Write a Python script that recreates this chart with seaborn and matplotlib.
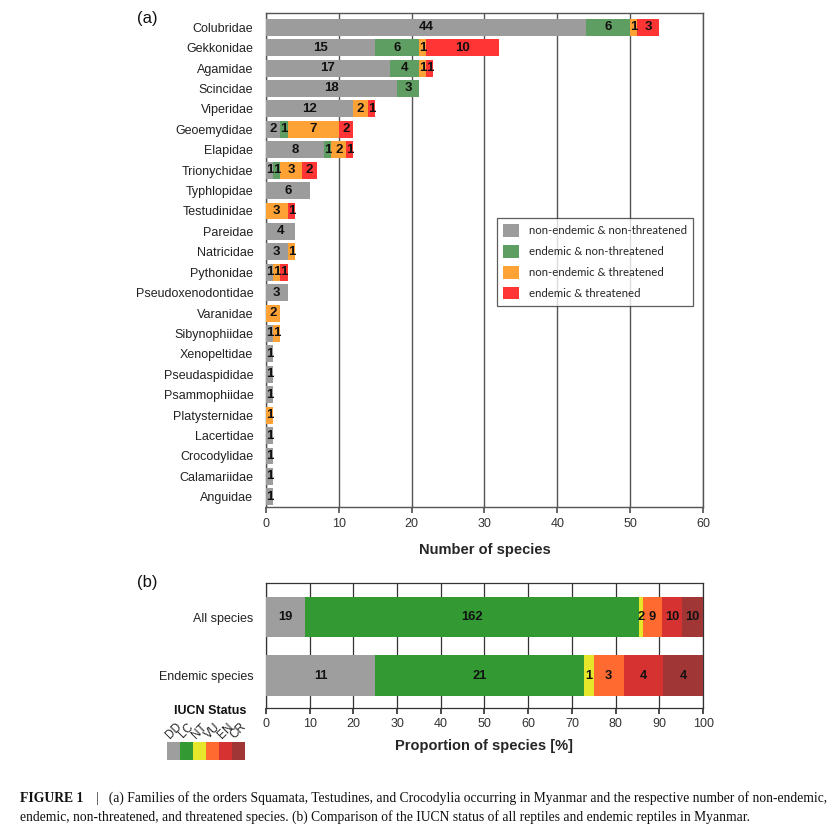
import numpy as np
import pandas as pd
import matplotlib
matplotlib.use("Agg")
import matplotlib.pyplot as plt
from matplotlib.colors import ListedColormap
from matplotlib.patches import Patch
import seaborn as sns

# ---------------- data (a) ----------------
families = ["Colubridae", "Gekkonidae", "Agamidae", "Scincidae", "Viperidae",
            "Geoemydidae", "Elapidae", "Trionychidae", "Typhlopidae", "Testudinidae",
            "Pareidae", "Natricidae", "Pythonidae", "Pseudoxenodontidae", "Varanidae",
            "Sibynophiidae", "Xenopeltidae", "Pseudaspididae", "Psammophiidae",
            "Platysternidae", "Lacertidae", "Crocodylidae", "Calamariidae", "Anguidae"]
nonend_nonthr = [44, 15, 17, 18, 12, 2, 8, 1, 6, 0, 4, 3, 1, 3, 0, 1, 1, 1, 1, 0, 1, 1, 1, 1]
end_nonthr    = [6, 6, 4, 3, 0, 1, 1, 1, 0, 0, 0, 0, 0, 0, 0, 0, 0, 0, 0, 0, 0, 0, 0, 0]
nonend_thr    = [1, 1, 1, 0, 2, 7, 2, 3, 0, 3, 0, 1, 1, 0, 2, 1, 0, 0, 0, 1, 0, 0, 0, 0]
end_thr       = [3, 10, 1, 0, 1, 2, 1, 2, 0, 1, 0, 0, 1, 0, 0, 0, 0, 0, 0, 0, 0, 0, 0, 0]
series_a = ["non-endemic & non-threatened", "endemic & non-threatened",
            "non-endemic & threatened", "endemic & threatened"]
colors_a = ["#9c9c9c", "#5f9e62", "#ffa236", "#ff3434"]
x_ticks_a = [0, 10, 20, 30, 40, 50, 60]

# ---------------- data (b) ----------------
groups = ["All species", "Endemic species"]
iucn = ["DD", "LC", "NT", "VU", "EN", "CR"]
all_species = [19, 162, 2, 9, 10, 10]
endemic_species = [11, 21, 1, 3, 4, 4]
colors_b = ["#9e9e9e", "#339a33", "#e6e62a", "#ff6a30", "#d63232", "#a13636"]
x_ticks_b = [0, 10, 20, 30, 40, 50, 60, 70, 80, 90, 100]

sns.set_theme(style="white")
plt.rcParams["font.family"] = ["Liberation Sans", "DejaVu Sans"]

fig = plt.figure(figsize=(8.36, 8.36), dpi=100)
axA = fig.add_axes([0.318, 0.3935, 0.523, 0.591])
axB = fig.add_axes([0.318, 0.1531, 0.523, 0.1495])

# ---------- panel (a) ----------
dfa = pd.DataFrame({"family": families, series_a[0]: nonend_nonthr,
                    series_a[1]: end_nonthr, series_a[2]: nonend_thr,
                    series_a[3]: end_thr})
cum = dfa[series_a].cumsum(axis=1)
for i in range(3, -1, -1):
    sns.barplot(x=cum[series_a[i]], y=dfa["family"], orient="h", color=colors_a[i],
                saturation=1, width=0.83, ax=axA, linewidth=0, zorder=3)
for r in range(len(families)):
    left = 0
    for s in series_a:
        v = dfa.loc[r, s]
        if v > 0:
            axA.text(left + v / 2, r, str(v), ha="center", va="center",
                     fontsize=9.5, fontweight="bold", color="#111111", zorder=5)
        left += v
axA.set_xlim(0, 60)
axA.set_ylim(len(families) - 0.5, -0.7)
axA.set_xticks(x_ticks_a)
axA.grid(axis="x", color="#555555", linewidth=1.0, zorder=1)
axA.grid(axis="y", visible=False)
axA.set_axisbelow(True)
for sp in axA.spines.values():
    sp.set_color("#555555")
    sp.set_linewidth(1.0)
axA.tick_params(axis="x", bottom=True, length=4, color="#555555", labelsize=9,
                labelcolor="#333333", pad=4)
axA.tick_params(axis="y", left=False, labelsize=9, labelcolor="#222222", pad=3)
axA.set_ylabel("")
axA.set_xlabel("Number of species", fontsize=10.5, fontweight="bold", labelpad=9)
handles = [Patch(facecolor=c, edgecolor="none", label=l) for c, l in zip(colors_a, series_a)]
leg = axA.legend(handles=handles, loc="upper left", bbox_to_anchor=(0.529, 0.585),
                 borderaxespad=0, frameon=True, fancybox=False, edgecolor="#333333",
                 prop={"family": "Lato", "size": 8.2}, handlelength=1.35,
                 handleheight=1.35, labelspacing=0.7, borderpad=0.55, handletextpad=0.9)
leg.get_frame().set_linewidth(0.9)

# ---------- panel (b) ----------
dfb = pd.DataFrame([all_species, endemic_species], columns=iucn)
dfb.insert(0, "group", groups)
pct = dfb[iucn].div(dfb[iucn].sum(axis=1), axis=0) * 100
cumb = pct.cumsum(axis=1)
for i in range(len(iucn) - 1, -1, -1):
    sns.barplot(x=cumb[iucn[i]], y=dfb["group"], orient="h", color=colors_b[i],
                saturation=1, width=0.69, ax=axB, linewidth=0, zorder=3)
for r in range(len(groups)):
    left = 0
    for s in iucn:
        v = dfb.loc[r, s]
        p = pct.loc[r, s]
        axB.text(left + p / 2, r, str(v), ha="center", va="center",
                 fontsize=9.3, fontweight="bold", color="#111111", zorder=5)
        left += p
axB.set_xlim(0, 100)
axB.set_ylim(1.55, -0.58)
axB.set_xticks(x_ticks_b)
axB.grid(axis="x", color="#333333", linewidth=0.9, zorder=1)
axB.grid(axis="y", visible=False)
axB.set_axisbelow(True)
for sp in axB.spines.values():
    sp.set_color("#333333")
    sp.set_linewidth(0.9)
axB.tick_params(axis="x", bottom=True, length=4, color="#333333", labelsize=9,
                labelcolor="#333333", pad=3)
axB.tick_params(axis="y", left=False, labelsize=9, labelcolor="#222222", pad=3)
axB.set_ylabel("")
axB.set_xlabel("Proportion of species [%]", fontsize=10.5, fontweight="bold", labelpad=7)

# ---------- IUCN colour key ----------
axK = fig.add_axes([0.1998, 0.0909, 0.0933, 0.0215])
sns.heatmap(np.arange(len(iucn)).reshape(1, -1), cmap=ListedColormap(colors_b),
            cbar=False, xticklabels=iucn, yticklabels=False, ax=axK, linewidths=0)
axK.xaxis.tick_top()
axK.tick_params(axis="x", top=False, bottom=False, length=0, pad=8, labelsize=8.5,
                labelcolor="#222222")
for lbl in axK.get_xticklabels():
    lbl.set_rotation(45)
    lbl.set_ha("center")
    lbl.set_va("center")
    lbl.set_rotation_mode("anchor")
for sp in axK.spines.values():
    sp.set_visible(False)
fig.text(0.251, 0.150, "IUCN Status", ha="center", va="center", fontsize=9,
         fontweight="bold", color="#111111")

# ---------- panel letters ----------
fig.text(0.164, 0.978, "(a)", ha="left", va="center", fontsize=12, color="#111111")
fig.text(0.164, 0.303, "(b)", ha="left", va="center", fontsize=12, color="#111111")

# ---------- caption ----------
cap_font = ["Liberation Serif", "DejaVu Serif"]
fig.text(0.024, 0.0405, "FIGURE 1", fontsize=9.8, fontweight="bold", family=cap_font,
         ha="left", va="baseline", color="#111111")
fig.text(0.115, 0.0405, "|   (a) Families of the orders Squamata, Testudines, and Crocodylia "
         "occurring in Myanmar and the respective number of non-endemic,",
         fontsize=9.8, family=cap_font, ha="left", va="baseline", color="#111111")
fig.text(0.024, 0.018, "endemic, non-threatened, and threatened species. (b) Comparison of the "
         "IUCN status of all reptiles and endemic reptiles in Myanmar.",
         fontsize=9.8, family=cap_font, ha="left", va="baseline", color="#111111")

fig.savefig("out.png", dpi=100)
